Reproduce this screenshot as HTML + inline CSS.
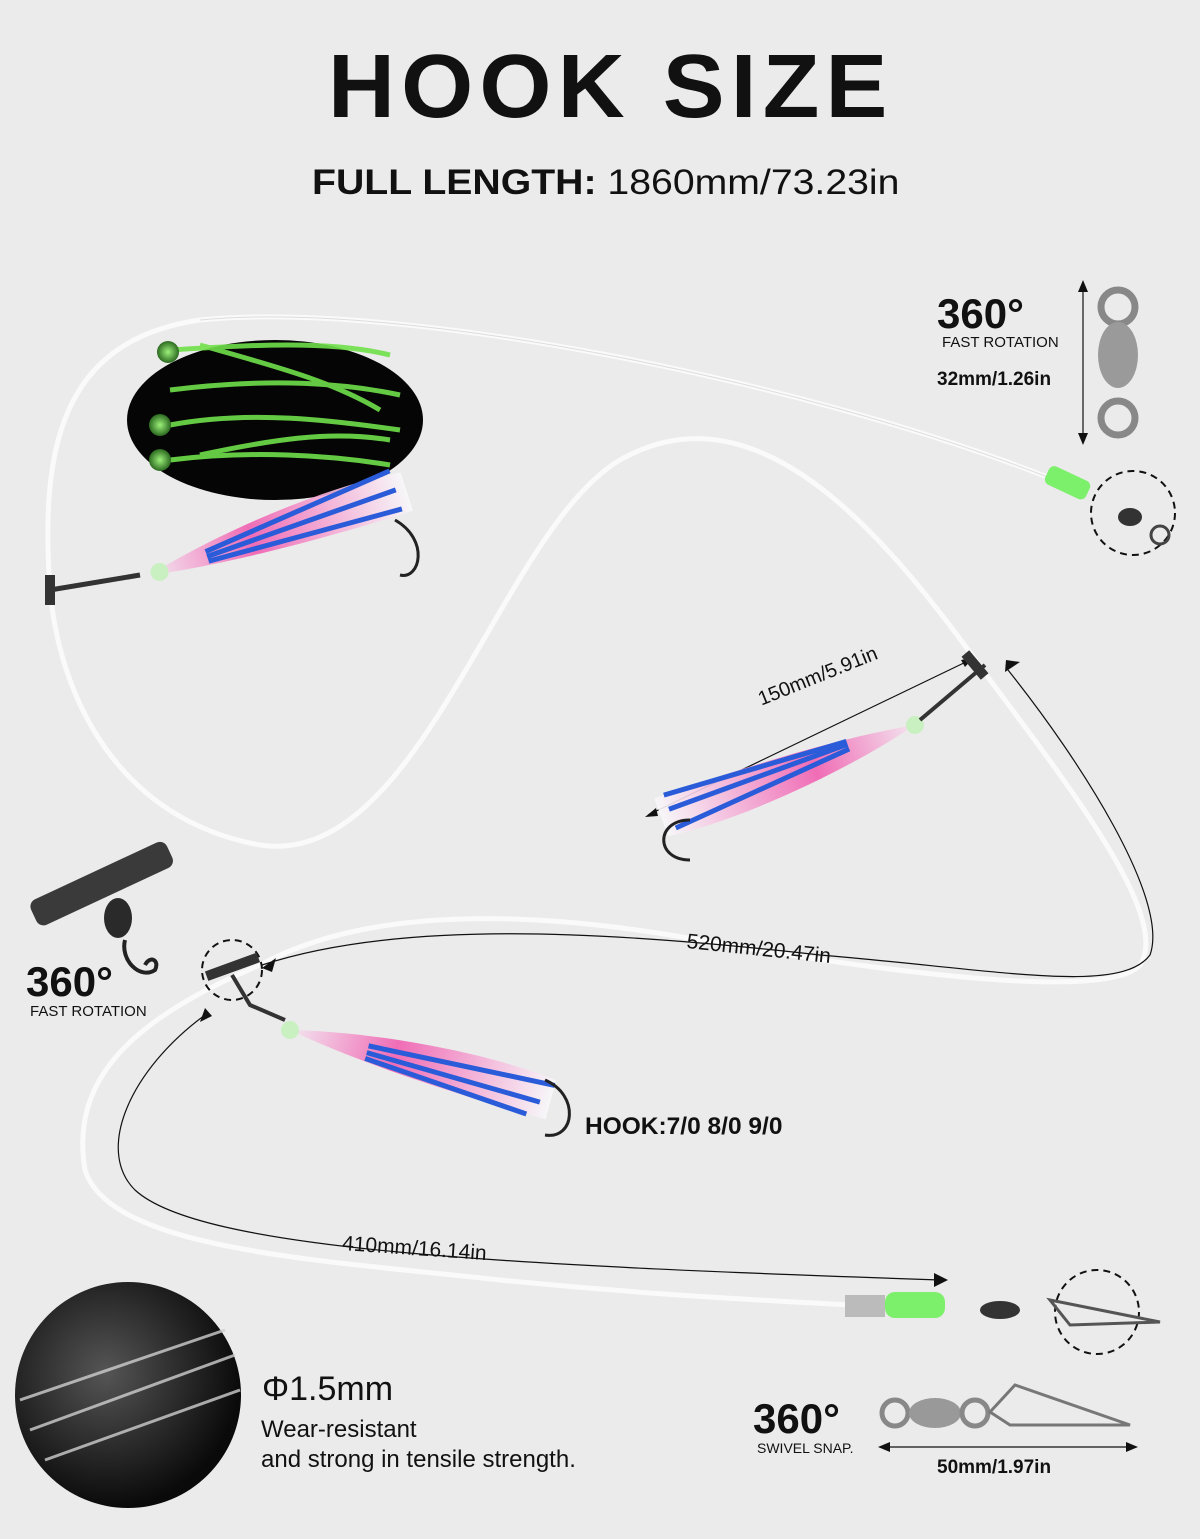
<!DOCTYPE html>
<html><head><meta charset="utf-8"><style>
html,body{margin:0;padding:0;}
body{width:1200px;height:1539px;background:#ebebeb;position:relative;overflow:hidden;font-family:"Liberation Sans",Arial,sans-serif;}
.t{position:absolute;white-space:nowrap;color:#111;}
</style></head><body>
<svg width="1200" height="1539" style="position:absolute;left:0;top:0">
<defs>
<linearGradient id="lure" x1="0" x2="1"><stop offset="0" stop-color="#f4e6f0"/><stop offset="0.4" stop-color="#f05fb0"/><stop offset="1" stop-color="#f8f8fa"/></linearGradient>
<radialGradient id="glow" cx="0.5" cy="0.5" r="0.5"><stop offset="0" stop-color="#9cf07a"/><stop offset="1" stop-color="#2c6a20"/></radialGradient>
<radialGradient id="tube" cx="0.4" cy="0.4" r="0.6"><stop offset="0" stop-color="#555"/><stop offset="1" stop-color="#0a0a0a"/></radialGradient>
</defs>
<g fill="none" stroke="#fafafa" stroke-width="5" stroke-linecap="round">
<path d="M1050,478 C800,380 400,300 200,320 C60,340 40,450 50,590 C60,700 120,820 260,845 C420,870 500,530 620,460 C760,380 890,540 990,680 C1080,800 1170,920 1140,965 C1110,1000 900,975 700,940 C560,915 380,900 260,965 C130,1020 70,1080 85,1170 C110,1250 320,1260 500,1280 C650,1295 760,1300 850,1305"/>
</g>
<g fill="none" stroke="#ddd" stroke-width="1"><path d="M1050,478 C800,380 400,300 200,320"/></g>
<g fill="none" stroke="#111" stroke-width="1.2">
<path d="M1008,670 C1080,760 1170,900 1150,955 C1120,995 1000,970 820,955 C600,930 400,920 262,965"/>
<path d="M205,1015 C130,1070 95,1150 135,1190 C200,1250 500,1265 940,1280"/>
<line x1="648" y1="815" x2="970" y2="660"/>
<line x1="1083" y1="285" x2="1083" y2="440"/>
<line x1="880" y1="1447" x2="1135" y2="1447"/>
</g>
<g fill="#111">
<polygon points="1005,672 1020,662 1006,660"/>
<polygon points="262,968 276,958 272,972"/>
<polygon points="200,1022 205,1008 212,1016"/>
<polygon points="948,1280 934,1273 934,1287"/>
<polygon points="1083,280 1078,292 1088,292"/><polygon points="1083,445 1078,433 1088,433"/>
<polygon points="878,1447 890,1442 890,1452"/><polygon points="1138,1447 1126,1442 1126,1452"/>
<polygon points="645,817 656,808 658,816"/><polygon points="973,658 961,660 965,667"/>
</g>
<g fill="none" stroke="#111" stroke-width="2" stroke-dasharray="7,5">
<circle cx="1133" cy="513" r="42"/><circle cx="232" cy="970" r="30"/><circle cx="1097" cy="1312" r="42"/>
</g>
<ellipse cx="275" cy="420" rx="148" ry="80" fill="#050505"/>
<g stroke="#6fe04a" stroke-width="5" fill="none" opacity="0.9">
<path d="M170,350 C250,345 330,340 390,355"/><path d="M170,390 C250,380 330,380 400,395"/><path d="M170,425 C250,410 330,420 400,430"/><path d="M170,460 C250,450 330,455 390,465"/>
<path d="M200,345 C270,365 330,380 380,410"/><path d="M200,455 C270,440 330,430 390,440"/>
</g>
<circle cx="168" cy="352" r="11" fill="url(#glow)"/><circle cx="160" cy="425" r="11" fill="url(#glow)"/><circle cx="160" cy="460" r="11" fill="url(#glow)"/>
<g>
<g transform="translate(150,575) rotate(-18)">
<path d="M0,0 C80,-20 200,-30 270,-20 L270,20 C200,20 80,15 0,0Z" fill="url(#lure)" opacity="0.9"/>
<path d="M60,-5 L260,-25 M60,0 L260,-5 M60,5 L260,15" stroke="#2a5bd8" stroke-width="5"/>
<circle cx="10" cy="0" r="9" fill="#c9f0c0"/>
</g>
<path d="M395,520 C430,540 420,580 400,575" stroke="#222" stroke-width="3" fill="none"/>
<path d="M50,590 L140,575" stroke="#333" stroke-width="5"/>
<rect x="45" y="575" width="10" height="30" fill="#333"/>
<g transform="translate(915,725) rotate(160)">
<path d="M0,0 C80,-20 200,-30 270,-20 L270,20 C200,20 80,15 0,0Z" fill="url(#lure)" opacity="0.9"/>
<path d="M70,0 L260,-15 M70,5 L260,5 M70,8 L260,20" stroke="#2a5bd8" stroke-width="5"/>
<circle cx="0" cy="0" r="9" fill="#c9f0c0"/>
</g>
<path d="M690,820 C655,820 655,860 690,860" stroke="#222" stroke-width="3" fill="none"/>
<path d="M920,720 L985,665" stroke="#333" stroke-width="4"/>
<rect x="970" y="650" width="10" height="30" fill="#333" transform="rotate(-40 975 665)"/>
<g transform="translate(290,1030) rotate(15)">
<path d="M0,0 C80,-20 200,-30 270,-20 L270,20 C200,20 80,15 0,0Z" fill="url(#lure)" opacity="0.9"/>
<path d="M80,-5 L270,-15 M80,2 L260,5 M80,8 L250,20" stroke="#2a5bd8" stroke-width="5"/>
<circle cx="0" cy="0" r="9" fill="#c9f0c0"/>
</g>
<path d="M545,1080 C580,1095 575,1140 545,1135" stroke="#222" stroke-width="3" fill="none"/>
<path d="M232,975 L250,1005 L285,1020" stroke="#333" stroke-width="4" fill="none"/>
<rect x="205" y="962" width="55" height="10" fill="#333" transform="rotate(-20 232 967)"/>
</g>
<g transform="rotate(-25 100 880)"><rect x="25" y="870" width="150" height="28" rx="8" fill="#3a3a3a"/></g>
<ellipse cx="118" cy="918" rx="14" ry="20" fill="#2a2a2a"/>
<path d="M125,940 C120,960 140,980 155,970 C160,960 150,955 145,965" stroke="#222" stroke-width="4" fill="none"/>
<circle cx="1118" cy="307" r="17" fill="none" stroke="#888" stroke-width="7"/>
<ellipse cx="1118" cy="355" rx="20" ry="33" fill="#9a9a9a"/>
<circle cx="1118" cy="418" r="17" fill="none" stroke="#888" stroke-width="7"/>
<rect x="1045" y="473" width="45" height="20" rx="6" fill="#7cf06a" transform="rotate(25 1068 483)"/>
<ellipse cx="1130" cy="517" rx="12" ry="9" fill="#333"/>
<circle cx="1160" cy="535" r="9" fill="none" stroke="#444" stroke-width="3"/>
<rect x="845" y="1295" width="40" height="22" fill="#bbb"/>
<rect x="885" y="1292" width="60" height="26" rx="10" fill="#7cf06a"/>
<ellipse cx="1000" cy="1310" rx="20" ry="9" fill="#333"/>
<path d="M1050,1300 L1160,1322 L1070,1325 Z" fill="none" stroke="#555" stroke-width="3"/>
<circle cx="895" cy="1413" r="13" fill="none" stroke="#888" stroke-width="5"/>
<ellipse cx="935" cy="1413" rx="26" ry="15" fill="#999"/>
<circle cx="975" cy="1413" r="13" fill="none" stroke="#888" stroke-width="5"/>
<path d="M990,1412 L1015,1385 L1130,1425 L1010,1425 Z" fill="none" stroke="#777" stroke-width="3"/>
<circle cx="128" cy="1395" r="113" fill="url(#tube)"/>
<g stroke="#cfcfcf" stroke-width="3" opacity="0.8" fill="none"><path d="M20,1400 L225,1330"/><path d="M30,1430 L235,1355"/><path d="M45,1460 L240,1390"/></g>
</svg>
<div class="t" style="left:328px;top:36px;font-size:90px;font-weight:900;letter-spacing:6px;transform:scaleX(1.03);transform-origin:left top;">HOOK SIZE</div>
<div class="t" style="left:312px;top:163px;font-size:35px;transform:scaleX(1.12);transform-origin:left top;"><b>FULL LENGTH:</b> 1860mm/73.23in</div>
<div class="t" style="left:937px;top:290px;font-size:42px;font-weight:bold;">360°</div>
<div class="t" style="left:942px;top:334px;font-size:15px;">FAST ROTATION</div>
<div class="t" style="left:937px;top:369px;font-size:19px;font-weight:bold;">32mm/1.26in</div>
<div class="t" style="left:755px;top:690px;font-size:20px;transform:rotate(-22deg);transform-origin:left top;">150mm/5.91in</div>
<div class="t" style="left:688px;top:930px;font-size:21px;transform:rotate(6deg);transform-origin:left top;">520mm/20.47in</div>
<div class="t" style="left:26px;top:958px;font-size:42px;font-weight:bold;">360°</div>
<div class="t" style="left:30px;top:1003px;font-size:15px;">FAST ROTATION</div>
<div class="t" style="left:585px;top:1113px;font-size:24.5px;font-weight:bold;">HOOK:7/0 8/0 9/0</div>
<div class="t" style="left:343px;top:1232px;font-size:21px;transform:rotate(4deg);transform-origin:left top;">410mm/16.14in</div>
<div class="t" style="left:262px;top:1370px;font-size:34px;">Φ1.5mm</div>
<div class="t" style="left:261px;top:1416px;font-size:24px;">Wear-resistant</div>
<div class="t" style="left:261px;top:1446px;font-size:24px;">and strong in tensile strength.</div>
<div class="t" style="left:753px;top:1395px;font-size:42px;font-weight:bold;">360°</div>
<div class="t" style="left:757px;top:1440px;font-size:14px;">SWIVEL SNAP.</div>
<div class="t" style="left:937px;top:1457px;font-size:19px;font-weight:bold;">50mm/1.97in</div>
</body></html>
